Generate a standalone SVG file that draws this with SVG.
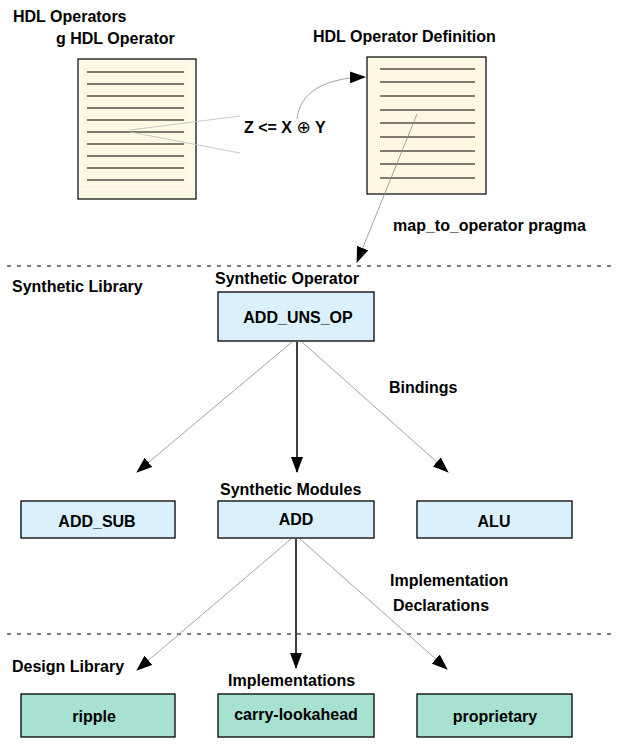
<svg xmlns="http://www.w3.org/2000/svg" width="619" height="752" viewBox="0 0 619 752">
<defs>
<style>
text{font-family:"Liberation Sans","DejaVu Sans",Arial,sans-serif;font-weight:bold;font-size:16px;fill:#000}
.c{text-anchor:middle}
.doc{fill:#fdf8e3;stroke:#000;stroke-width:1.2}
.ln{stroke:#000;stroke-width:1.2}
.blue{fill:#daf0fc;stroke:#000;stroke-width:1.3}
.green{fill:#a6e1d2;stroke:#000;stroke-width:1.3}
.dash{stroke:#000;stroke-width:1;stroke-dasharray:4 6;fill:none}
.thin{stroke:#8a8a8a;stroke-width:0.8;fill:none}
.faint{stroke:#bdbdbd;stroke-width:0.8;fill:none}
.thick{stroke:#000;stroke-width:1.5;fill:none}
</style>
<marker id="ah" viewBox="0 0 16 12" refX="15" refY="6" markerWidth="16" markerHeight="12" markerUnits="userSpaceOnUse" orient="auto">
<path d="M0,0 L16,6 L0,12 Z" fill="#000"/>
</marker>
</defs>

<g id="labels">
<text x="13" y="22">HDL Operators</text>
<text x="56" y="44">g HDL Operator</text>
<text x="313" y="42">HDL Operator Definition</text>
<text x="393" y="231">map_to_operator pragma</text>
<text x="12" y="292">Synthetic Library</text>
<text x="215" y="284">Synthetic Operator</text>
<text x="389" y="393">Bindings</text>
<text x="220" y="495">Synthetic Modules</text>
<text x="390" y="586">Implementation</text>
<text x="393" y="611">Declarations</text>
<text x="12" y="672">Design Library</text>
<text x="228" y="686">Implementations</text>
<text x="244" y="133">Z &lt;= X <tspan font-weight="normal" font-family="DejaVu Sans, sans-serif" font-size="17">⊕</tspan> Y</text>
</g>

<g id="dividers">
<line class="dash" x1="7" y1="266" x2="612" y2="266"/>
<line class="dash" x1="7" y1="634" x2="612" y2="634"/>
</g>

<g id="hdl-operator-doc">
<rect class="doc" x="78" y="59" width="118" height="140"/>
<rect x="80" y="61" width="110" height="128" fill="none" stroke="#ffffff" stroke-width="0.8"/>
<g class="ln">
<line x1="87" y1="72" x2="184" y2="72"/>
<line x1="87" y1="84" x2="184" y2="84"/>
<line x1="87" y1="96" x2="184" y2="96"/>
<line x1="87" y1="108" x2="184" y2="108"/>
<line x1="87" y1="120" x2="184" y2="120"/>
<line x1="87" y1="132" x2="184" y2="132"/>
<line x1="87" y1="144" x2="184" y2="144"/>
<line x1="87" y1="156" x2="184" y2="156"/>
<line x1="87" y1="168" x2="184" y2="168"/>
<line x1="87" y1="180" x2="184" y2="180"/>
</g>
</g>

<g id="hdl-operator-definition-doc">
<rect class="doc" x="367" y="57" width="119" height="137"/>
<g class="ln">
<line x1="380" y1="69" x2="475" y2="69"/>
<line x1="380" y1="82" x2="475" y2="82"/>
<line x1="380" y1="96" x2="475" y2="96"/>
<line x1="380" y1="110" x2="475" y2="110"/>
<line x1="380" y1="123" x2="475" y2="123"/>
<line x1="380" y1="137" x2="475" y2="137"/>
<line x1="380" y1="151" x2="475" y2="151"/>
<line x1="380" y1="164" x2="475" y2="164"/>
<line x1="380" y1="178" x2="475" y2="178"/>
</g>
</g>

<g id="add-uns-op">
<rect class="blue" x="218" y="292" width="156" height="49"/>
<text class="c" x="298" y="323">ADD_UNS_OP</text>
</g>

<g id="add-sub">
<rect class="blue" x="21" y="501" width="154" height="37"/>
<text class="c" x="97" y="527">ADD_SUB</text>
</g>
<g id="add">
<rect class="blue" x="218" y="501" width="156" height="37"/>
<text class="c" x="296" y="525">ADD</text>
</g>
<g id="alu">
<rect class="blue" x="417" y="501" width="155" height="37"/>
<text class="c" x="494" y="527">ALU</text>
</g>

<g id="ripple">
<rect class="green" x="21" y="694" width="154" height="43"/>
<text class="c" x="94" y="722">ripple</text>
</g>
<g id="carry-lookahead">
<rect class="green" x="218" y="694" width="156" height="43"/>
<text class="c" x="296" y="720">carry-lookahead</text>
</g>
<g id="proprietary">
<rect class="green" x="417" y="694" width="155" height="43"/>
<text class="c" x="495" y="722">proprietary</text>
</g>

<g id="connectors">
<line class="faint" x1="130" y1="130" x2="240" y2="116"/>
<line class="faint" x1="130" y1="132" x2="240" y2="153"/>
<path class="thin" d="M297,119 C300,92 325,78 365,77" marker-end="url(#ah)"/>
<line class="thin" x1="417" y1="114" x2="357" y2="262" marker-end="url(#ah)"/>
<line class="thin" x1="292" y1="342" x2="137" y2="472" marker-end="url(#ah)"/>
<line class="thick" x1="297" y1="342" x2="297" y2="472" marker-end="url(#ah)"/>
<line class="thin" x1="302" y1="342" x2="448" y2="472" marker-end="url(#ah)"/>
<line class="thin" x1="291" y1="539" x2="137" y2="670" marker-end="url(#ah)"/>
<line class="thick" x1="296" y1="539" x2="296" y2="668" marker-end="url(#ah)"/>
<line class="thin" x1="300" y1="539" x2="447" y2="669" marker-end="url(#ah)"/>
</g>
</svg>
